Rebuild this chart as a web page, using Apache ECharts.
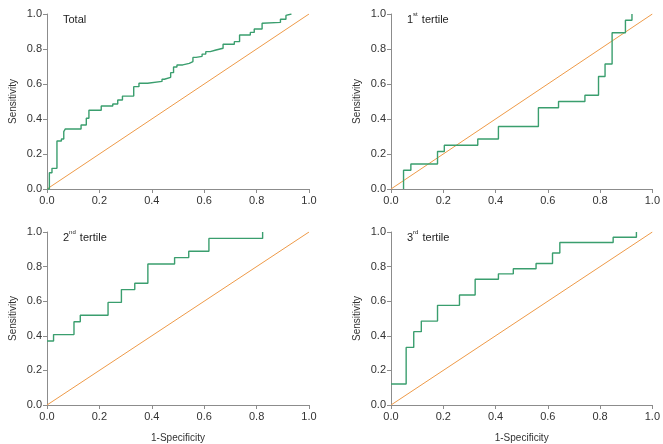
<!DOCTYPE html>
<html><head><meta charset="utf-8">
<script src="https://cdn.jsdelivr.net/npm/echarts@6/dist/echarts.min.js"></script>
<style>html,body{margin:0;padding:0;background:#fff}#c{width:663px;height:444px}</style>
</head><body><div id="c"></div>
<script>
// Staircase ROC data: first entry = start point, each next entry = step
// (move horizontally to x[i], then vertically to y[i])
const totalX = [0, 0.009, 0.019, 0.038, 0.055, 0.064, 0.070, 0.130, 0.150, 0.160, 0.207, 0.251, 0.270, 0.288, 0.331, 0.351, 0.384, 0.439, 0.448, 0.472, 0.483, 0.496, 0.518, 0.543, 0.557, 0.569, 0.592, 0.606, 0.623, 0.645, 0.672, 0.715, 0.735, 0.776, 0.791, 0.821, 0.824, 0.891, 0.912, 0.916, 0.933];
const totalY = [0, 0.093, 0.118, 0.274, 0.286, 0.328, 0.343, 0.366, 0.404, 0.450, 0.474, 0.486, 0.509, 0.531, 0.585, 0.604, 0.615, 0.627, 0.638, 0.665, 0.697, 0.709, 0.718, 0.728, 0.752, 0.758, 0.771, 0.785, 0.794, 0.804, 0.827, 0.842, 0.880, 0.895, 0.914, 0.947, 0.952, 0.970, 0.992, 1.0, 1.0];
const t1X = [0.048, 0.048, 0.076, 0.178, 0.204, 0.332, 0.411, 0.564, 0.641, 0.742, 0.794, 0.819, 0.846, 0.897, 0.922];
const t1Y = [0, 0.107, 0.143, 0.214, 0.250, 0.286, 0.357, 0.464, 0.500, 0.536, 0.643, 0.714, 0.893, 0.964, 1.0];
const t2X = [0, 0.025, 0.103, 0.127, 0.233, 0.284, 0.335, 0.385, 0.487, 0.541, 0.618, 0.823];
const t2Y = [0.370, 0.407, 0.481, 0.519, 0.593, 0.667, 0.704, 0.815, 0.852, 0.889, 0.963, 1.0];
const t3X = [0, 0.058, 0.087, 0.116, 0.178, 0.262, 0.322, 0.411, 0.468, 0.555, 0.618, 0.646, 0.850, 0.939];
const t3Y = [0.121, 0.333, 0.424, 0.485, 0.576, 0.636, 0.727, 0.758, 0.788, 0.818, 0.879, 0.939, 0.970, 1.0];
const diagX = [0, 1];
const diagY = [0, 1];
const tickLabels = ['0.0', '0.2', '0.4', '0.6', '0.8', '1.0'];
const panelTitles = ['Total', '1st tertile', '2nd tertile', '3rd tertile'];

function stairs(xs, ys) {
  const p = [[xs[0], ys[0]]];
  for (let i = 1; i < xs.length; i++) {
    p.push([xs[i], ys[i - 1]]);
    p.push([xs[i], ys[i]]);
  }
  return p;
}
const curves = [[totalX, totalY], [t1X, t1Y], [t2X, t2Y], [t3X, t3Y]];
const FONT = "'Liberation Sans Narrow', 'Liberation Sans', Arial, sans-serif";
const grids = [
  { left: 47, top: 14, width: 262, height: 175 },
  { left: 391, top: 14, width: 262, height: 175 },
  { left: 47, top: 232, width: 262, height: 175 },
  { left: 391, top: 232, width: 262, height: 175 }
];
const axisLine = { lineStyle: { color: '#8c8c8c', width: 1 } };
const axisLabel = { color: '#333', fontSize: 11, fontFamily: FONT, formatter: v => tickLabels[Math.round(v * 5)] };
const xAxis = grids.map((g, i) => ({
  type: 'value', gridIndex: i, min: 0, max: 1, interval: 0.2,
  axisLine: Object.assign({ onZero: false }, axisLine),
  axisTick: { show: true, length: 4, lineStyle: { color: '#8c8c8c' } },
  splitLine: { show: false },
  axisLabel: Object.assign({ margin: 6 }, axisLabel),
  name: i >= 2 ? '1-Specificity' : '', nameLocation: 'middle', nameGap: 28,
  nameTextStyle: { color: '#333', fontSize: 10, fontFamily: FONT }
}));
const yAxis = grids.map((g, i) => ({
  type: 'value', gridIndex: i, min: 0, max: 1, interval: 0.2,
  axisLine: Object.assign({ onZero: false }, axisLine),
  axisTick: { show: true, length: 4, lineStyle: { color: '#8c8c8c' } },
  splitLine: { show: false },
  axisLabel: Object.assign({ margin: 5 }, axisLabel),
  name: 'Sensitivity', nameLocation: 'middle', nameGap: 29,
  nameTextStyle: { color: '#333', fontSize: 10, fontFamily: FONT }
}));
const series = [];
curves.forEach((c, i) => {
  series.push({
    type: 'line', xAxisIndex: i, yAxisIndex: i, data: diagX.map((x, k) => [x, diagY[k]]),
    showSymbol: false, silent: true, lineStyle: { color: '#ee9a48', width: 1 }, z: 2
  });
  series.push({
    type: 'line', xAxisIndex: i, yAxisIndex: i, data: stairs(c[0], c[1]),
    showSymbol: false, silent: true, lineStyle: { color: '#3a9e6e', width: 1.4 }, z: 3
  });
});
function titleText(t) {
  const m = t.match(/^(\d)(st|nd|rd)(.*)$/);
  if (!m) return '{a|' + t + '}';
  return '{a|' + m[1] + '}{s|' + m[2] + '}{a|' + m[3] + '}';
}
const titles = panelTitles.map((t, i) => ({
  text: titleText(t), left: grids[i].left + 16, top: grids[i].top - 3, padding: 0,
  textStyle: {
    rich: {
      a: { fontSize: 11, fontWeight: 'normal', fontFamily: FONT, color: '#222', lineHeight: 14, verticalAlign: 'bottom' },
      s: { fontSize: 6, fontWeight: 'normal', fontFamily: FONT, color: '#222', lineHeight: 14, verticalAlign: 'top', padding: [0, 1, 6, 0] }
    }
  }
}));
const chart = echarts.init(document.getElementById('c'), null, { renderer: 'canvas' });
chart.setOption({
  animation: false, backgroundColor: '#fff',
  title: titles, grid: grids, xAxis, yAxis, series
});
</script></body></html>
